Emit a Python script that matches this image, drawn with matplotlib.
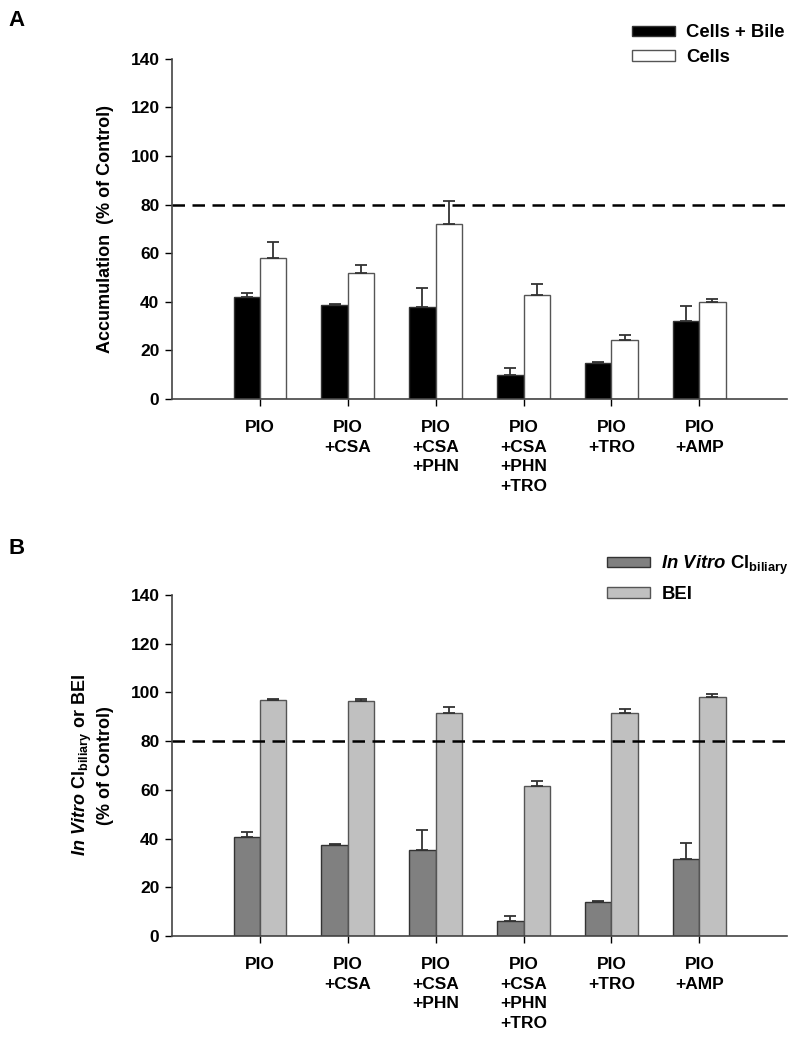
import numpy as np
import matplotlib.pyplot as plt

plt.rcParams['font.family'] = 'Liberation Sans'
plt.rcParams['font.weight'] = 'bold'
plt.rcParams['mathtext.fontset'] = 'custom'
plt.rcParams['mathtext.rm'] = 'Liberation Sans:bold'
plt.rcParams['mathtext.it'] = 'Liberation Sans:italic:bold'
plt.rcParams['mathtext.bf'] = 'Liberation Sans:bold'

groups = ["PIO", "PIO\n+CSA", "PIO\n+CSA\n+PHN", "PIO\n+CSA\n+PHN\n+TRO", "PIO\n+TRO", "PIO\n+AMP"]

# panel A
cells_bile = [41.9, 38.8, 37.7, 9.7, 14.9, 32.1]
cells_bile_err = [1.9, 0.4, 8.1, 3.0, 0.3, 6.3]
cells = [58.1, 51.9, 72.2, 42.7, 24.2, 40.0]
cells_err = [6.4, 3.2, 9.2, 4.6, 2.2, 1.1]

# panel B
clbil = [40.7, 37.4, 35.1, 6.1, 13.8, 31.8]
clbil_err = [2.0, 0.3, 8.3, 2.1, 0.4, 6.4]
bei = [96.9, 96.4, 91.7, 61.7, 91.7, 98.2]
bei_err = [0.5, 0.7, 2.4, 1.8, 1.3, 1.1]

fig = plt.figure(figsize=(8, 10.5), dpi=100)
axA = fig.add_axes([0.215, 0.62, 0.769, 0.324])
axB = fig.add_axes([0.215, 0.1086, 0.769, 0.3248])

x = np.arange(1, len(groups) + 1)
w = 0.3
ekw = dict(ecolor='#333333', elinewidth=1.3, capthick=1.3)


def draw(ax, v1, e1, c1, v2, e2, c2, l1, l2):
    ax.bar(x - w / 2, v1, w, color=c1, edgecolor='#333333', lw=1, label=l1,
           yerr=[np.zeros(len(v1)), e1], capsize=4, error_kw=ekw)
    ax.bar(x + w / 2, v2, w, color=c2, edgecolor='#555555', lw=1, label=l2,
           yerr=[np.zeros(len(v2)), e2], capsize=4, error_kw=ekw)
    ax.axhline(80, color='black', ls=(0, (5, 3)), lw=1.8)
    ax.set_xlim(0, 7)
    ax.set_ylim(0, 140)
    ax.set_yticks(range(0, 141, 20))
    ax.set_xticks(x)
    ax.set_xticklabels(groups, fontsize=12.5, fontweight='bold', linespacing=1.4)
    ax.tick_params(axis='y', labelsize=12.5, length=5, width=1, pad=4)
    ax.tick_params(axis='x', length=5, width=1, pad=10)
    for s in ['top', 'right']:
        ax.spines[s].set_visible(False)
    for s in ['left', 'bottom']:
        ax.spines[s].set_color('#444444')
        ax.spines[s].set_linewidth(1.2)


draw(axA, cells_bile, cells_bile_err, 'black', cells, cells_err, 'white',
     'Cells + Bile', 'Cells')
draw(axB, clbil, clbil_err, '#808080', bei, bei_err, '#c0c0c0',
     r'$\mathit{In\ Vitro}$ Cl$_{\mathrm{biliary}}$', 'BEI')

axA.set_ylabel('Accumulation  (% of Control)', fontsize=13, fontweight='bold', labelpad=12)
axB.set_ylabel(r'$\mathit{In\ Vitro}$ Cl$_{\mathrm{biliary}}$ or BEI' + '\n(% of Control)',
               fontsize=13, fontweight='bold', labelpad=12, linespacing=1.2)

axA.legend(loc='upper left', bbox_to_anchor=(0.72, 1.15), frameon=False, fontsize=13.3,
           handlelength=2.35, handleheight=0.5, handletextpad=0.6, labelspacing=0.42)
axB.legend(loc='upper left', bbox_to_anchor=(0.68, 1.17), frameon=False, fontsize=13.3,
           handlelength=2.35, handleheight=0.5, handletextpad=0.6, labelspacing=0.5)

fig.text(0.01, 0.99, 'A', fontsize=16, fontweight='bold', va='top')
fig.text(0.01, 0.488, 'B', fontsize=16, fontweight='bold', va='top')

fig.savefig('out.png', dpi=100)
